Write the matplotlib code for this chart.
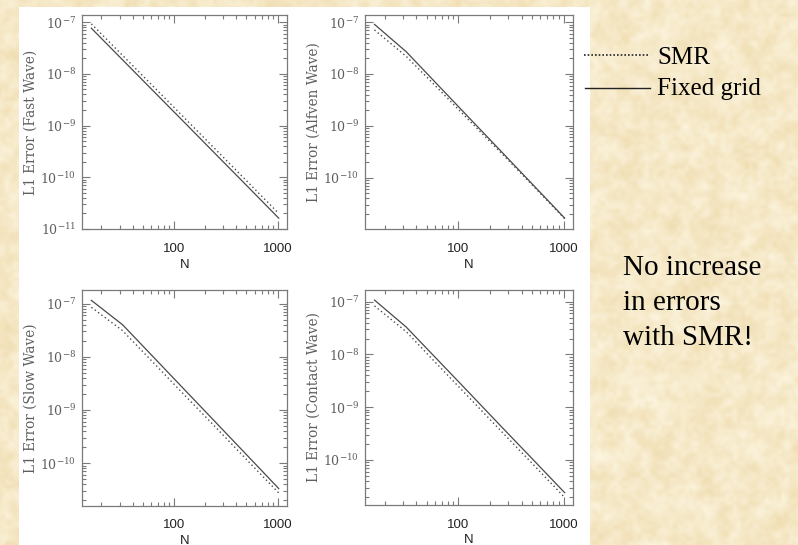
import numpy as np
import matplotlib
matplotlib.use("Agg")
import matplotlib.pyplot as plt
from matplotlib.patches import Rectangle
from matplotlib.ticker import FuncFormatter, LogLocator, NullFormatter

plt.rcParams['mathtext.fontset'] = 'dejavuserif'

# grid resolution
N = [16, 32, 64, 128, 256, 512, 1024]

# L1 errors, fixed grid (solid) and SMR (dotted)
fast_fixed = [7.66e-8, 1.87e-8, 4.57e-9, 1.12e-9, 2.73e-10, 6.67e-11, 1.62e-11]
fast_smr = [9.3e-8, 2.28e-8, 5.6e-9, 1.37e-9, 3.35e-10, 8.2e-11, 2.0e-11]
alfven_fixed = [9.1e-8, 2.7e-8, 6.15e-9, 1.40e-9, 3.2e-10, 7.3e-11, 1.66e-11]
alfven_smr = [7.1e-8, 2.2e-8, 5.3e-9, 1.25e-9, 3.0e-10, 7.0e-11, 1.62e-11]
slow_fixed = [1.15e-7, 4.0e-8, 9.7e-9, 2.35e-9, 5.7e-10, 1.38e-10, 3.33e-11]
slow_smr = [8.5e-8, 3.1e-8, 7.6e-9, 1.86e-9, 4.6e-10, 1.12e-10, 2.75e-11]
contact_fixed = [1.07e-7, 3.3e-8, 7.8e-9, 1.84e-9, 4.3e-10, 1.02e-10, 2.4e-11]
contact_smr = [8.3e-8, 2.7e-8, 6.3e-9, 1.49e-9, 3.5e-10, 8.3e-11, 1.95e-11]

ylabels = ['L1 Error (Fast Wave)', 'L1 Error (Alfven Wave)',
           'L1 Error (Slow Wave)', 'L1 Error (Contact Wave)']

W, H = 798, 545
bg = '#f6e8c6'
axis_grey = '#7a7a7a'
text_grey = '#5e5e5e'
line_grey = '#4a4a4a'

fig = plt.figure(figsize=(W / 100, H / 100), dpi=100, facecolor=bg)


def blotches(cell, width, seed):
    # smoothed noise field, built oversize and cropped to avoid edge darkening
    rng = np.random.default_rng(seed)
    pad = 3 * width
    coarse = rng.random(((H + 2 * pad) // cell + 2, (W + 2 * pad) // cell + 2))
    f = np.kron(coarse, np.ones((cell, cell)))
    k = np.ones(width) / width
    f = np.apply_along_axis(lambda r: np.convolve(r, k, mode='same'), 1, f)
    f = np.apply_along_axis(lambda c: np.convolve(c, k, mode='same'), 0, f)
    f = f[pad:pad + H, pad:pad + W]
    return (f - f.mean()) / f.std()


# mottled paper backdrop
paper = 0.7 * blotches(10, 13, 7) + 0.5 * blotches(4, 5, 11)
base = np.array([246, 233, 200]) / 255.0
tint = np.array([2.0, 4.0, 8.0]) / 255.0
rgb = np.clip(base[None, None, :] - paper[..., None] * tint[None, None, :], 0, 1)
fig.figimage(rgb, xo=0, yo=0, zorder=-10)

# white sheet behind the plots
fig.patches.append(Rectangle((19 / W, 0), (590 - 19) / W, (H - 7) / H,
                             transform=fig.transFigure, facecolor='white',
                             edgecolor='none', zorder=-5))


def px_axes(x0, y0, x1, y1):
    return fig.add_axes([x0 / W, 1 - y1 / H, (x1 - x0) / W, (y1 - y0) / H])


panels = [
    (px_axes(82, 15, 287, 229), fast_fixed, fast_smr, (1.0e-11, 1.38e-7), 3),
    (px_axes(365, 15, 573, 229), alfven_fixed, alfven_smr, (1.02e-11, 1.38e-7), 3),
    (px_axes(82, 290, 287, 505.5), slow_fixed, slow_smr, (1.6e-11, 1.8e-7), 2.5),
    (px_axes(365, 290, 573, 505), contact_fixed, contact_smr, (1.4e-11, 1.66e-7), 2.5),
]

sci = FuncFormatter(lambda v, p: r'$10^{%d}$' % int(round(np.log10(v))))
plain = FuncFormatter(lambda v, p: '%d' % round(v))

for (ax, fixed, smr, ylim, pad), lab in zip(panels, ylabels):
    ax.plot(N, fixed, color=line_grey, lw=0.9, solid_joinstyle='miter')
    ax.plot(N, smr, color=line_grey, lw=1.0, ls=(0, (1, 2)))
    ax.set_xscale('log')
    ax.set_yscale('log')
    ax.set_xlim(13, 1230)
    ax.set_ylim(*ylim)
    ax.xaxis.set_major_locator(LogLocator(base=10, numticks=10))
    ax.xaxis.set_minor_locator(LogLocator(base=10, subs=np.arange(2, 10), numticks=10))
    ax.yaxis.set_major_locator(LogLocator(base=10, numticks=12))
    ax.yaxis.set_minor_locator(LogLocator(base=10, subs=np.arange(2, 10), numticks=12))
    ax.xaxis.set_major_formatter(plain)
    ax.xaxis.set_minor_formatter(NullFormatter())
    ax.yaxis.set_major_formatter(sci)
    ax.yaxis.set_minor_formatter(NullFormatter())
    ax.tick_params(which='both', direction='in', top=True, right=True,
                   color=axis_grey, width=0.8)
    ax.tick_params(which='major', length=6)
    ax.tick_params(which='minor', length=3)
    ax.tick_params(axis='x', labelsize=9.5, labelcolor='#222222', pad=10)
    ax.tick_params(axis='y', labelsize=9, labelcolor=text_grey, pad=4)
    for t in ax.get_xticklabels():
        t.set_fontfamily('Liberation Sans')
    for s in ax.spines.values():
        s.set_color(axis_grey)
        s.set_linewidth(0.9)
    ax.set_xlabel('N', fontfamily='Liberation Sans', fontsize=9.5,
                  color='#222222', labelpad=pad)
    ax.set_ylabel(lab, fontfamily='DejaVu Serif', fontsize=9.8,
                  color=text_grey, labelpad=2)

# legend drawn by hand on the right
fig.add_artist(plt.Line2D([584 / W, 650 / W], [1 - 55 / H, 1 - 55 / H],
                          transform=fig.transFigure, color='#222222',
                          lw=1.2, ls=(0, (1, 1.2))))
fig.add_artist(plt.Line2D([585 / W, 650 / W], [1 - 88 / H, 1 - 88 / H],
                          transform=fig.transFigure, color='#222222', lw=1.0))
fig.text(657 / W, 1 - 64 / H, 'SMR', fontfamily='Liberation Serif',
         fontsize=18, color='black', va='baseline')
fig.text(657 / W, 1 - 95 / H, 'Fixed grid', fontfamily='Liberation Serif',
         fontsize=18, color='black', va='baseline')

for i, line in enumerate(['No increase', 'in errors', 'with SMR!']):
    fig.text(623 / W, 1 - (275 + 35 * i) / H, line,
             fontfamily='Liberation Serif', fontsize=21, color='black',
             va='baseline', ha='left')

fig.savefig('out.png', dpi=100, facecolor=bg)
